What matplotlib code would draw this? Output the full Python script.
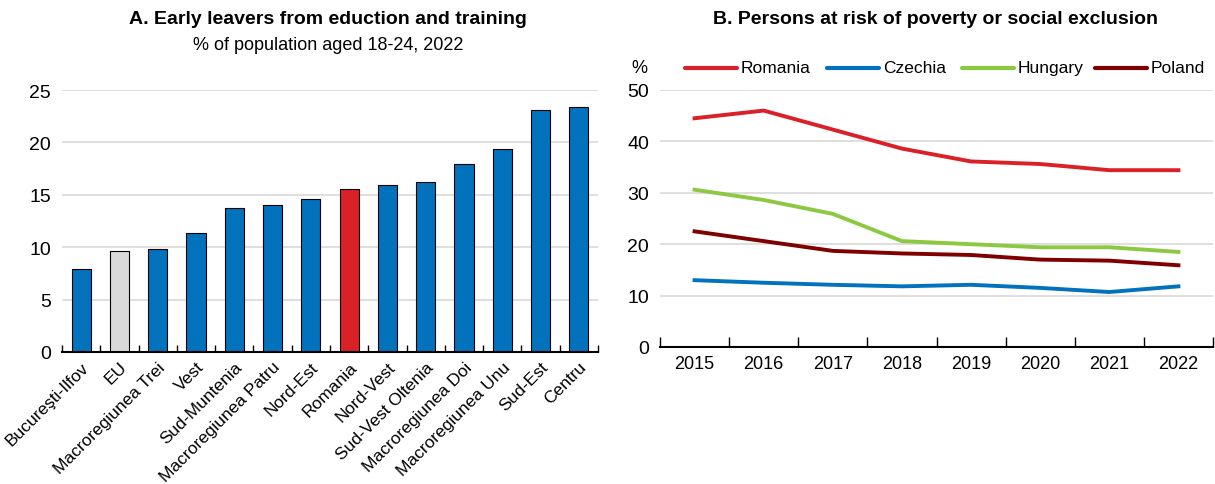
import matplotlib
matplotlib.use("Agg")
import matplotlib.pyplot as plt
from matplotlib.lines import Line2D
import numpy as np

plt.rcParams['font.family'] = ['Liberation Sans', 'DejaVu Sans']

# Panel A data
regions = ["Bucureşti-Ilfov", "EU", "Macroregiunea Trei", "Vest", "Sud-Muntenia",
           "Macroregiunea Patru", "Nord-Est", "Romania", "Nord-Vest", "Sud-Vest Oltenia",
           "Macroregiunea Doi", "Macroregiunea Unu", "Sud-Est", "Centru"]
early_leavers = [7.9, 9.6, 9.8, 11.4, 13.7, 14.0, 14.6, 15.6, 15.9, 16.2, 17.9, 19.4, 23.1, 23.4]

# Panel B data
years = ["2015", "2016", "2017", "2018", "2019", "2020", "2021", "2022"]
romania = [44.5, 46.0, 42.3, 38.6, 36.1, 35.6, 34.4, 34.4]
czechia = [13.0, 12.5, 12.1, 11.8, 12.1, 11.5, 10.7, 11.8]
hungary = [30.6, 28.6, 25.9, 20.6, 20.0, 19.4, 19.4, 18.5]
poland = [22.5, 20.6, 18.7, 18.2, 17.9, 17.0, 16.8, 15.9]

BLUE = "#0272BC"
RED = "#DA2128"
GREY = "#D9D9D9"
GREEN = "#8CC841"
DARKRED = "#7F0000"
GRID = "#D9D9D9"

W, H = 1215, 485
fig = plt.figure(figsize=(W / 100, H / 100), dpi=100)

def box(x0, x1, y0, y1):
    return [x0 / W, 1 - y1 / H, (x1 - x0) / W, (y1 - y0) / H]

def fx(px):
    return px / W

def fy(py):
    return 1 - py / H

# ---- Panel A ----
axA = fig.add_axes(box(62, 598, 91, 353))
colors = [GREY if r == "EU" else RED if r == "Romania" else BLUE for r in regions]
x = np.arange(len(regions))
axA.bar(x, early_leavers, width=0.5, color=colors, edgecolor="black", linewidth=0.8, zorder=3)
axA.set_xlim(-0.5, len(regions) - 0.5)
axA.set_ylim(0, 25)
axA.set_yticks([0, 5, 10, 15, 20, 25])
axA.yaxis.grid(True, color=GRID, linewidth=1.2, zorder=0)
axA.set_xticks(x)
axA.set_xticklabels(regions, rotation=45, ha="right", rotation_mode="anchor", fontsize=12.5)
axA.tick_params(axis="x", length=0, pad=5)
axA.set_xticks(np.arange(-0.5, len(regions), 1), minor=True)
axA.tick_params(axis="x", which="minor", direction="in", length=5, width=1, color="black")
axA.tick_params(axis="y", length=0, labelsize=14, pad=8)
for s in ["left", "right", "top"]:
    axA.spines[s].set_visible(False)
axA.spines["bottom"].set_linewidth(1.5)
axA.spines["bottom"].set_zorder(4)

fig.text(fx(328), fy(20), "A. Early leavers from eduction and training",
         ha="center", va="center", fontsize=14, fontweight="bold")
fig.text(fx(328), fy(45), "% of population aged 18-24, 2022",
         ha="center", va="center", fontsize=13)

# ---- Panel B ----
axB = fig.add_axes(box(660, 1213, 91, 348))
xb = np.arange(len(years))
series = [("Romania", romania, RED), ("Czechia", czechia, BLUE),
          ("Hungary", hungary, GREEN), ("Poland", poland, DARKRED)]
for name, vals, c in series:
    axB.plot(xb, vals, color=c, linewidth=2.8, zorder=3)
axB.set_xlim(-0.5, len(years) - 0.5)
axB.set_ylim(0, 50)
axB.set_yticks([0, 10, 20, 30, 40, 50])
axB.yaxis.grid(True, color=GRID, linewidth=1.2, zorder=0)
axB.set_xticks(xb)
axB.set_xticklabels(years, fontsize=13)
axB.tick_params(axis="x", length=0, pad=6)
axB.set_xticks(np.arange(-0.5, len(years), 1), minor=True)
axB.tick_params(axis="x", which="minor", direction="in", length=7, width=1, color="black")
axB.tick_params(axis="y", length=0, labelsize=14, pad=8)
for s in ["left", "right", "top"]:
    axB.spines[s].set_visible(False)
axB.spines["bottom"].set_linewidth(1.5)
axB.spines["bottom"].set_zorder(4)

fig.text(fx(935), fy(20), "B. Persons at risk of poverty or social exclusion",
         ha="center", va="center", fontsize=14, fontweight="bold")
fig.text(fx(639), fy(69), "%", ha="center", va="center", fontsize=13)

# Legend row drawn as figure artists
legend_starts = [685, 827, 962, 1095]
for (name, _, c), x0 in zip(series, legend_starts):
    fig.add_artist(Line2D([fx(x0), fx(x0 + 52)], [fy(69), fy(69)],
                          color=c, linewidth=3, solid_capstyle="round"))
    fig.text(fx(x0 + 56), fy(69), name, ha="left", va="center", fontsize=12.5)

fig.savefig("out.png", dpi=100)
